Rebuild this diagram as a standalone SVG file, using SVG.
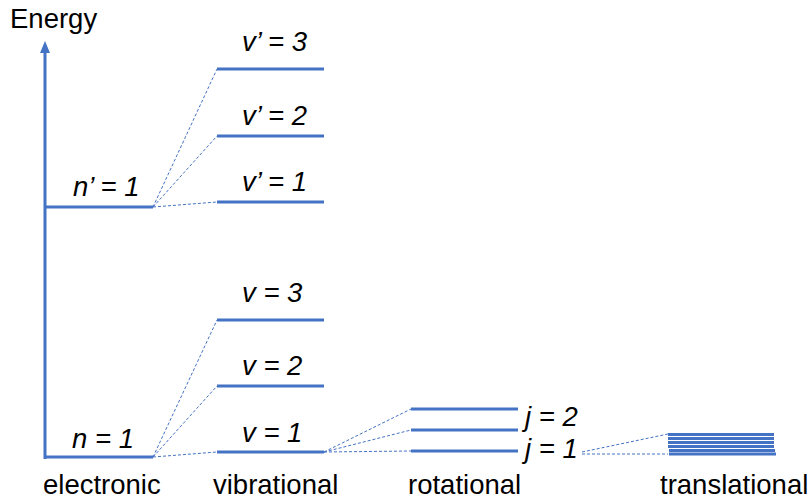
<svg xmlns="http://www.w3.org/2000/svg" width="812" height="500" viewBox="0 0 812 500">
<style>
.lvl{stroke:#4472C4;stroke-width:3;fill:none}
.dash{stroke:#4472C4;stroke-width:1;stroke-dasharray:3,2;fill:none}
.lab{font-family:"Liberation Sans",Arial,sans-serif;font-size:27.5px;font-style:italic;fill:#000}
.cat{font-family:"Liberation Sans",Arial,sans-serif;font-size:27.5px;fill:#000}
</style>
<rect width="812" height="500" fill="#fff"/>
<g id="axis">
<line class="lvl" x1="45" y1="52" x2="45" y2="459"/>
<polygon points="45,41 40,53 50,53" fill="#4472C4"/>
<text class="cat" x="10" y="28">Energy</text>
</g>
<g id="connectors">
<line class="dash" x1="153" y1="207" x2="217" y2="69"/>
<line class="dash" x1="153" y1="207" x2="217" y2="136"/>
<line class="dash" x1="153" y1="207" x2="217" y2="202"/>
<line class="dash" x1="153" y1="457" x2="217" y2="320"/>
<line class="dash" x1="153" y1="457" x2="217" y2="386"/>
<line class="dash" x1="153" y1="457" x2="217" y2="452"/>
<line class="dash" x1="324" y1="452" x2="411" y2="409"/>
<line class="dash" x1="324" y1="452" x2="411" y2="430"/>
<line class="dash" x1="324" y1="452" x2="411" y2="451"/>
<line class="dash" x1="582" y1="452" x2="668" y2="434"/>
<line class="dash" x1="582" y1="454" x2="668" y2="454"/>
</g>
<g id="n-prime-1">
<line class="lvl" x1="45" y1="207" x2="153" y2="207"/>
<text class="lab" x="73" y="196">n’ = 1</text>
</g>
<g id="n-1">
<line class="lvl" x1="45" y1="457" x2="153" y2="457"/>
<text class="lab" x="72" y="448">n = 1</text>
</g>
<g id="v-prime-3">
<line class="lvl" x1="217" y1="69" x2="324" y2="69"/>
<text class="lab" x="242" y="51">v’ = 3</text>
</g>
<g id="v-prime-2">
<line class="lvl" x1="217" y1="136" x2="324" y2="136"/>
<text class="lab" x="242" y="125">v’ = 2</text>
</g>
<g id="v-prime-1">
<line class="lvl" x1="217" y1="202" x2="324" y2="202"/>
<text class="lab" x="242" y="191">v’ = 1</text>
</g>
<g id="v-3">
<line class="lvl" x1="217" y1="320" x2="324" y2="320"/>
<text class="lab" x="242" y="302">v = 3</text>
</g>
<g id="v-2">
<line class="lvl" x1="217" y1="386" x2="324" y2="386"/>
<text class="lab" x="242" y="375">v = 2</text>
</g>
<g id="v-1">
<line class="lvl" x1="217" y1="452" x2="324" y2="452"/>
<text class="lab" x="242" y="442">v = 1</text>
</g>
<g id="j-2">
<line class="lvl" x1="411" y1="409" x2="518" y2="409"/>
<line class="lvl" x1="411" y1="430" x2="518" y2="430"/>
<text class="lab" x="525" y="426">j = 2</text>
</g>
<g id="j-1">
<line class="lvl" x1="411" y1="451" x2="518" y2="451"/>
<text class="lab" x="525" y="458">j = 1</text>
</g>
<g id="translational-levels">
<line class="lvl" x1="668" y1="434.5" x2="774" y2="434.5" stroke-width="2.2"/>
<line class="lvl" x1="668" y1="438.5" x2="774" y2="438.5" stroke-width="2.2"/>
<line class="lvl" x1="668" y1="442.5" x2="774" y2="442.5" stroke-width="2.2"/>
<line class="lvl" x1="668" y1="446.5" x2="774" y2="446.5" stroke-width="2.2"/>
<line class="lvl" x1="669" y1="450.5" x2="775" y2="450.5" stroke-width="2.2"/>
<line class="lvl" x1="669" y1="454" x2="776" y2="454" stroke-width="2.2"/>
</g>
<g id="categories">
<text class="cat" x="43" y="494">electronic</text>
<text class="cat" x="213" y="494">vibrational</text>
<text class="cat" x="408" y="494">rotational</text>
<text class="cat" x="660" y="494">translational</text>
</g>
</svg>
